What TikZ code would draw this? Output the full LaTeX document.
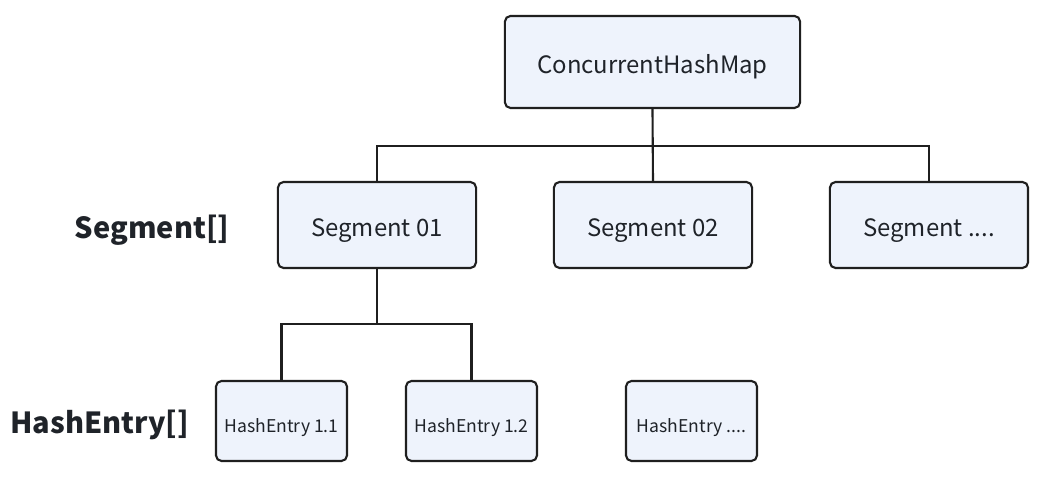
\documentclass[tikz,border=0pt]{standalone}
\usepackage{fontspec}
\setmainfont{Noto Sans CJK SC}
\usepackage{tikz}
\usetikzlibrary{positioning, calc}
\usepackage{xcolor}
\definecolor{boxfill}{HTML}{EEF3FC}
\definecolor{boxline}{HTML}{1F1F1F}
\definecolor{inkdark}{HTML}{1F2329}

\begin{document}
\begin{tikzpicture}[
    x=0.01cm, y=-0.01cm,
    box/.style={draw=boxline, line width=0.6pt, rounded corners=1.6pt, fill=boxfill, text=inkdark, align=center, inner sep=0pt, text height=0.78em, text depth=0.12em},
    mapbox/.style={box, minimum width=2.95cm, minimum height=0.92cm, font=\fontsize{6.8}{8}\selectfont},
    segbox/.style={box, minimum width=1.98cm, minimum height=0.86cm, font=\fontsize{6.8}{8}\selectfont},
    entrybox/.style={box, minimum width=1.31cm, minimum height=0.80cm, font=\fontsize{5.0}{6}\selectfont},
    tier/.style={text=inkdark, inner sep=0pt, text height=0.78em, text depth=0.12em, font=\fontsize{8.25}{10}\selectfont\bfseries},
    conn/.style={draw=boxline, line width=0.6pt}
]
\useasboundingbox (0,0) rectangle (1050,483);

% ConcurrentHashMap
\node[mapbox] (map) at (652.5,62) {ConcurrentHashMap};

% Segments
\node[segbox] (seg1) at (377,225) {Segment 01};
\node[segbox] (seg2) at (653,225) {Segment 02};
\node[segbox] (seg3) at (929,225) {Segment ....};
\node[tier] (segtier) at (152,227) {Segment[]};

% HashEntries
\node[entrybox] (ent1) at (281.5,421) {HashEntry 1.1};
\node[entrybox] (ent2) at (471.5,421) {HashEntry 1.2};
\node[entrybox] (ent3) at (691.5,421) {HashEntry ....};
\node[tier] (enttier) at (99.5,422) {HashEntry[]};

% tree lines
\coordinate (mapbus) at (652.5,146);
\coordinate (segbus) at (377,324);
\draw[conn] (map.south) -- (seg2.north);
\draw[conn] (seg1.north) -- (seg1.north |- mapbus) -- (seg3.north |- mapbus) -- (seg3.north);
\draw[conn] (seg1.south) -- (segbus);
\draw[conn] (ent1.north) -- (ent1.north |- segbus) -- (ent2.north |- segbus) -- (ent2.north);

\end{tikzpicture}
\end{document}
